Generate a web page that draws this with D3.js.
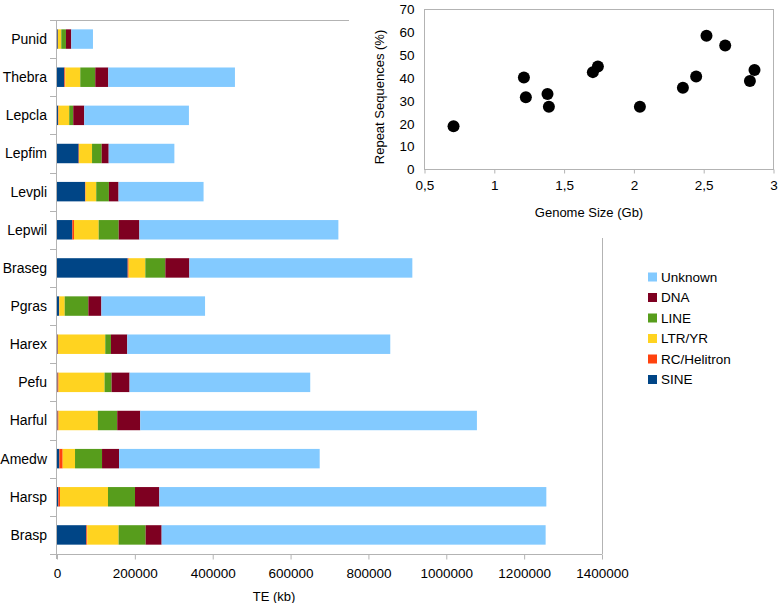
<!DOCTYPE html>
<html><head><meta charset="utf-8">
<script src="https://cdn.jsdelivr.net/npm/d3@7"></script>
<style>body{margin:0;background:#fff}svg{display:block;font-family:"Liberation Sans",Arial,sans-serif}</style>
</head><body><svg id="c" width="780" height="603"></svg>
<script>
const categories = ["Punid","Thebra","Lepcla","Lepfim","Levpli","Lepwil","Braseg","Pgras","Harex","Pefu","Harful","Amedw","Harsp","Brasp"];
const seriesNames = ["SINE","RC/Helitron","LTR/YR","LINE","DNA","Unknown"];
const SINE    = [2000,18800,2500,55600,71900,39400,181600,5100,1500,1500,1500,6000,3400,75300];
const RC      = [500,2500,1500,1000,1500,4300,2500,1000,1000,2500,2500,8600,4300,2500];
const LTR     = [8500,38500,27400,33400,27400,63400,42800,13700,121500,118200,101000,31700,123300,80500];
const LINE    = [12000,38500,10300,24800,32500,51400,51400,60800,14600,18000,49700,69400,69400,69400];
const DNA     = [13700,33400,28300,18000,24800,53100,61700,33400,41900,46200,59100,43700,62500,41100];
const Unknown = [55700,325400,268900,168700,218400,511200,572800,266300,675600,464100,864900,515400,994100,986400];
const xTicks = [0,200000,400000,600000,800000,1000000,1200000,1400000];

const genomeSize = [0.708,1.212,1.226,1.381,1.391,1.706,1.742,2.043,2.351,2.446,2.520,2.654,2.831,2.864];
const repeatPct  = [18.9,40.2,31.6,33.0,27.5,42.6,45.1,27.5,35.8,40.7,58.5,54.3,38.7,43.5];
const sxTicks = [0.5,1,1.5,2,2.5,3];
const syTicks = [0,10,20,30,40,50,60,70];

const colors = {"SINE":"#004586","RC/Helitron":"#ff420e","LTR/YR":"#ffd320","LINE":"#579d1c","DNA":"#7e0021","Unknown":"#83caff"};
const seriesData = {"SINE":SINE,"RC/Helitron":RC,"LTR/YR":LTR,"LINE":LINE,"DNA":DNA,"Unknown":Unknown};

const svg = d3.select("#c");
const grid = "#b3b3b3";
const fs = "13.5px";

// ---- bar chart ----
const x = d3.scaleLinear().domain([0,1400000]).range([57,602]);
const y = d3.scaleBand().domain(categories).range([20,554]).paddingInner(0.49).paddingOuter(0.245);

const rows = categories.map((c,i)=>{const o={cat:c}; seriesNames.forEach(s=>o[s]=seriesData[s][i]); return o;});
const stack = d3.stack().keys(seriesNames)(rows);

// frame
svg.append("line").attr("x1",50).attr("x2",602).attr("y1",20.5).attr("y2",20.5).attr("stroke",grid);
svg.append("line").attr("x1",602.5).attr("x2",602.5).attr("y1",20).attr("y2",554).attr("stroke",grid);

svg.append("g").selectAll("g").data(stack).join("g").attr("fill",d=>colors[d.key])
  .selectAll("rect").data(d=>d).join("rect")
  .attr("x",d=>x(d[0])).attr("width",d=>x(d[1])-x(d[0]))
  .attr("y",d=>y(d.data.cat)).attr("height",y.bandwidth());

// left axis
const step = y.step();
svg.append("line").attr("x1",56.5).attr("x2",56.5).attr("y1",20).attr("y2",559).attr("stroke",grid);
d3.range(categories.length+1).forEach(k=>{
  const yy = Math.round(20+k*(534/categories.length))+0.5;
  svg.append("line").attr("x1",50).attr("x2",57).attr("y1",yy).attr("y2",yy).attr("stroke",grid);
});
svg.append("g").selectAll("text").data(categories).join("text")
  .attr("x",47).attr("y",d=>y(d)+y.bandwidth()/2).attr("dy","0.35em")
  .attr("text-anchor","end").attr("font-size","14px").attr("fill","#000").text(d=>d);

// bottom axis
const xAxis = d3.axisBottom(x).tickValues(xTicks).tickSize(5).tickFormat(d3.format("d"));
const gx = svg.append("g").attr("transform","translate(0,554.5)").call(xAxis);
gx.select(".domain").remove();
gx.append("line").attr("x1",50).attr("x2",602).attr("stroke",grid);
gx.selectAll(".tick line").attr("stroke",grid);
gx.selectAll(".tick text").attr("font-size",fs).attr("fill","#000").attr("dy",0).attr("y",23).attr("font-family","Liberation Sans, Arial, sans-serif");
svg.append("text").attr("x",274).attr("y",601).attr("text-anchor","middle").attr("font-size","13px").text("TE (kb)");

// legend
const legendOrder = seriesNames.slice().reverse();
const lg = svg.append("g");
legendOrder.forEach((s,i)=>{
  const cy = 277 + i*20.5;
  lg.append("rect").attr("x",648).attr("y",cy-4.5).attr("width",9).attr("height",9).attr("fill",colors[s]);
  lg.append("text").attr("x",661).attr("y",cy).attr("dy","0.35em").attr("font-size",fs).text(s);
});

// ---- inset scatter ----
svg.append("rect").attr("x",349).attr("y",0).attr("width",431).attr("height",238).attr("fill","#fff");
const sx = d3.scaleLinear().domain([0.5,3]).range([424.5,773.5]);
const sy = d3.scaleLinear().domain([0,70]).range([169.5,9.5]);
svg.append("rect").attr("x",424.5).attr("y",9.5).attr("width",349).attr("height",160).attr("fill","none").attr("stroke",grid);
const sgx = svg.append("g").attr("transform","translate(0,169.5)").call(d3.axisBottom(sx).tickValues(sxTicks).tickSize(4).tickFormat(d=>String(d).replace(".",",")));
sgx.select(".domain").remove();
sgx.selectAll(".tick line").attr("stroke",grid);
sgx.selectAll(".tick text").attr("font-size",fs).attr("fill","#000").attr("dy",0).attr("y",20).attr("font-family","Liberation Sans, Arial, sans-serif");
const sgy = svg.append("g").attr("transform","translate(424.5,0)").call(d3.axisLeft(sy).tickValues(syTicks).tickSize(0).tickPadding(10));
sgy.select(".domain").remove();
sgy.selectAll(".tick text").attr("font-size",fs).attr("fill","#000").attr("font-family","Liberation Sans, Arial, sans-serif");
svg.append("text").attr("x",589).attr("y",217).attr("text-anchor","middle").attr("font-size","13px").text("Genome Size (Gb)");
svg.append("text").attr("transform","translate(384,97) rotate(-90)").attr("text-anchor","middle").attr("font-size","13px").text("Repeat Sequences (%)");
svg.append("g").selectAll("circle").data(genomeSize).join("circle")
  .attr("cx",d=>sx(d)).attr("cy",(d,i)=>sy(repeatPct[i])).attr("r",6).attr("fill","#000");
</script></body></html>
